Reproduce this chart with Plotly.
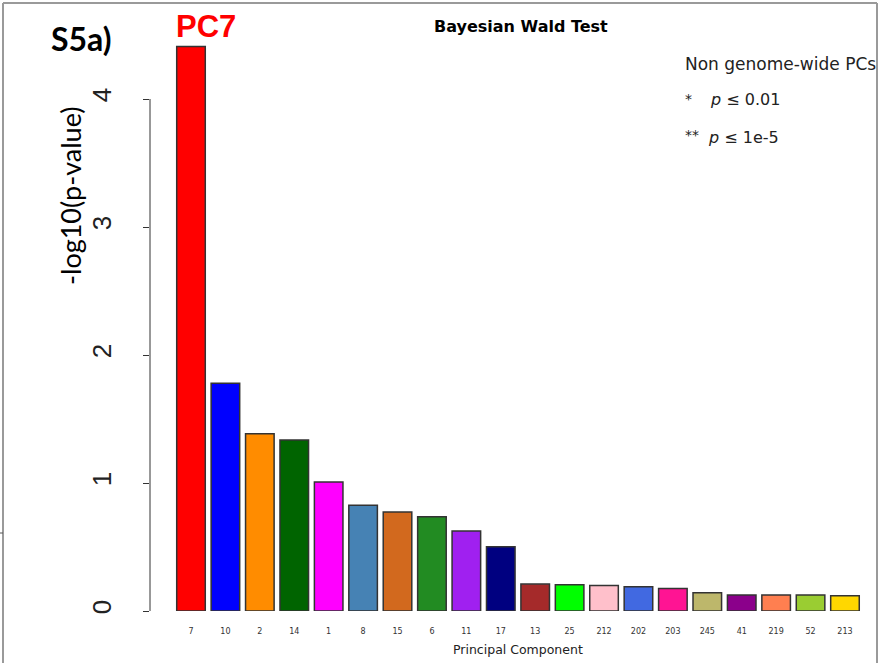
import plotly.graph_objects as go

# ---- data ----
components = ["7", "10", "2", "14", "1", "8", "15", "6", "11", "17",
              "13", "25", "212", "202", "203", "245", "41", "219", "52", "213"]
neg_log10_p = [4.41, 1.78, 1.385, 1.336, 1.008, 0.826, 0.773, 0.737, 0.625, 0.502,
               0.21, 0.205, 0.20, 0.19, 0.176, 0.143, 0.125, 0.125, 0.125, 0.12]
bar_colors = ["#FF0000", "#0000FF", "#FF8C00", "#006400", "#FF00FF", "#4682B4",
              "#D2691E", "#228B22", "#A020F0", "#000080", "#A52A2A", "#00FF00",
              "#FFC0CB", "#4169E1", "#FF1493", "#BDB76B", "#8B008B", "#FF7F50",
              "#9ACD32", "#FFD700"]
y_ticks = [0, 1, 2, 3, 4]

# ---- layout geometry (pixels) ----
W, H = 878, 663
L, R, T, B = 150, 8, 40, 52
PW, PH = W - L - R, H - T - B


def px(xp):
    return (xp - L) / PW


def py(yp):
    return (H - B - yp) / PH


fig = go.Figure()
fig.add_trace(go.Bar(
    x=components, y=neg_log10_p,
    marker=dict(color=bar_colors, line=dict(color="#333333", width=1.5)),
    showlegend=False, hoverinfo="x+y",
))

fig.update_layout(
    width=W, height=H,
    margin=dict(l=L, r=R, t=T, b=B, pad=0),
    paper_bgcolor="white", plot_bgcolor="white",
    bargap=0.17,
    xaxis=dict(type="category", range=[-1.191, 19.727], showgrid=False,
               showline=False, zeroline=False, ticks="",
               tickfont=dict(family="DejaVu Sans", size=8, color="#333333"),
               ticklabelstandoff=14),
    yaxis=dict(range=[0, 4.461], tickvals=y_ticks, showgrid=False,
               showline=False, zeroline=False, ticks="outside", ticklen=6,
               tickwidth=1, tickcolor="#333333", tickangle=-90,
               tickfont=dict(family="Liberation Sans", size=26, color="#222222"),
               ticklabelstandoff=22),
    font=dict(family="Liberation Sans"),
)

# y axis line only between 0 and 4 (R style)
fig.add_shape(type="line", xref="paper", yref="y", x0=0, x1=0, y0=0, y1=4,
              line=dict(color="#333333", width=1))

# outer grey frame (top, left, right)
fig.add_shape(type="line", xref="paper", yref="paper", x0=px(3), x1=px(877),
              y0=py(3), y1=py(3), line=dict(color="#9A9A9A", width=2))
fig.add_shape(type="line", xref="paper", yref="paper", x0=px(3), x1=px(3),
              y0=py(3), y1=py(663), line=dict(color="#9A9A9A", width=2))
fig.add_shape(type="line", xref="paper", yref="paper", x0=px(877), x1=px(877),
              y0=py(3), y1=py(663), line=dict(color="#9A9A9A", width=2))
fig.add_shape(type="line", xref="paper", yref="paper", x0=px(0), x1=px(3),
              y0=py(533), y1=py(533), line=dict(color="#555555", width=1))

ann = []
ann.append(dict(text="<b>S5a)</b>", x=px(81), y=py(39), xanchor="center", yanchor="middle",
                font=dict(family="Lato", size=32, color="black")))
ann.append(dict(text="<b>PC7</b>", x=px(206), y=py(27), xanchor="center", yanchor="middle",
                font=dict(family="Liberation Sans", size=31, color="#FF0000")))
ann.append(dict(text="<b>Bayesian Wald Test</b>", x=px(521), y=py(27), xanchor="center",
                yanchor="middle", font=dict(family="DejaVu Sans", size=16, color="black")))
ann.append(dict(text="-log10(p-value)", x=px(71), y=py(196), xanchor="center",
                yanchor="middle", textangle=-90,
                font=dict(family="Lato", size=27, color="black")))
ann.append(dict(text="Principal Component", x=px(518), y=py(649), xanchor="center",
                yanchor="middle", font=dict(family="DejaVu Sans", size=12.5, color="#222222")))
ann.append(dict(text="Non genome-wide PCs", x=px(683), y=py(64), xanchor="left",
                yanchor="middle", font=dict(family="DejaVu Sans", size=17, color="#222222")))
ann.append(dict(text="*", x=px(683), y=py(99), xanchor="left", yanchor="middle",
                font=dict(family="DejaVu Sans", size=14, color="#222222")))
ann.append(dict(text="<i>p</i> ≤ 0.01", x=px(708), y=py(100), xanchor="left",
                yanchor="middle", font=dict(family="DejaVu Sans", size=16, color="#222222")))
ann.append(dict(text="**", x=px(683), y=py(135), xanchor="left", yanchor="middle",
                font=dict(family="DejaVu Sans", size=14, color="#222222")))
ann.append(dict(text="<i>p</i> ≤ 1e-5", x=px(706), y=py(137), xanchor="left",
                yanchor="middle", font=dict(family="DejaVu Sans", size=16, color="#222222")))
for a in ann:
    a.update(xref="paper", yref="paper", showarrow=False)
fig.update_layout(annotations=ann)

fig.write_html("out.html")
